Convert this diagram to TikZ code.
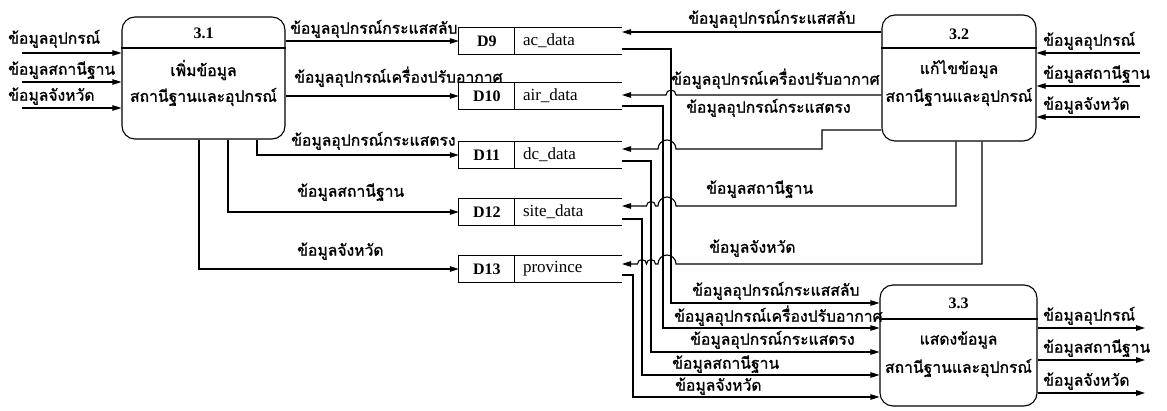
\documentclass[tikz,border=0pt]{standalone}
\usepackage{fontspec}
\setmainfont{Liberation Serif}
\newfontfamily\thai[Script=Thai, FakeBold=1.2]{Loma}
\usetikzlibrary{arrows.meta}

\tikzset{
  wire/.style={line width=1.1pt},
  flow/.style={line width=1.1pt, -{Triangle[length=9pt,width=5.5pt]}},
  procbox/.style={draw, line width=1.1pt, rounded corners=13pt, fill=white, inner sep=0pt},
  storebox/.style={minimum width=163pt, minimum height=27pt, inner sep=0pt},
  lbl/.style={font=\thai\fontsize{15.7}{17}\selectfont, inner sep=0pt},
  ptext/.style={font=\thai\fontsize{15.7}{17}\selectfont, inner sep=0pt},
  numtext/.style={font=\bfseries\fontsize{16}{18}\selectfont, inner sep=0pt},
  idtext/.style={font=\bfseries\fontsize{16}{18}\selectfont, inner sep=0pt},
  nametext/.style={font=\fontsize{17}{19}\selectfont, inner sep=0pt},
}

\newcommand{\dstore}[4]{%
  \node[storebox] (#1) at (540.5,#2) {};
  \draw[wire] (#1.north east) -- (#1.north west) -- (#1.south west) -- (#1.south east);
  \draw[wire] ([xshift=56pt]#1.north west) -- ([xshift=56pt]#1.south west);
  \node[idtext] (#1id) at ([xshift=28pt]#1.west) {#3};
  \node[nametext, anchor=west] (#1nm) at ([xshift=64pt]#1.west) {#4};
}

\begin{document}
\begin{tikzpicture}[x=1pt,y=-1pt]
\useasboundingbox[fill=white] (0,0) rectangle (1167,411);

% processes
\node[procbox, minimum width=163pt, minimum height=122pt] (p31) at (203.5,78) {};
\node[procbox, minimum width=154pt, minimum height=126pt] (p32) at (959,78) {};
\node[procbox, minimum width=157pt, minimum height=121pt] (p33) at (958.5,345.5) {};
\coordinate (h31) at (0,48);
\coordinate (h33) at (0,319);
\draw[wire] (p31.west |- h31) -- (p31.east |- h31);
\draw[wire] (p32.west |- h31) -- (p32.east |- h31);
\draw[wire] (p33.west |- h33) -- (p33.east |- h33);
\node[numtext] (p31n) at (203.5,33) {3.1};
\node[ptext] (p31a) at (203.5,70) {เพิ่มข้อมูล};
\node[ptext] (p31b) at (203.5,97) {สถานีฐานและอุปกรณ์};
\node[numtext] (p32n) at (959,34) {3.2};
\node[ptext] (p32a) at (959,69) {แก้ไขข้อมูล};
\node[ptext] (p32b) at (959,97) {สถานีฐานและอุปกรณ์};
\node[numtext] (p33n) at (958.5,303) {3.3};
\node[ptext] (p33a) at (958.5,340) {แสดงข้อมูล};
\node[ptext] (p33b) at (958.5,368) {สถานีฐานและอุปกรณ์};

% data stores
\dstore{d9}{41}{D9}{ac\_data}
\dstore{d10}{96}{D10}{air\_data}
\dstore{d11}{155}{D11}{dc\_data}
\dstore{d12}{212}{D12}{site\_data}
\dstore{d13}{269}{D13}{province}

\coordinate (d9in) at (622,32);   \coordinate (d9out) at (622,49);
\coordinate (d10in) at (622,95);  \coordinate (d10out) at (622,106);
\coordinate (d11in) at (622,149); \coordinate (d11out) at (622,161);
\coordinate (d12in) at (622,206); \coordinate (d12out) at (622,219);
\coordinate (d13in) at (622,264); \coordinate (d13out) at (622,275);

% external inputs to 3.1
\coordinate (in1) at (22,53);
\coordinate (in2) at (22,82);
\coordinate (in3) at (22,108);
\draw[flow] (in1) -- (p31.west |- in1);
\draw[flow] (in2) -- (p31.west |- in2);
\draw[flow] (in3) -- (p31.west |- in3);
\node[lbl, anchor=south west] (l1) at (8,48) {ข้อมูลอุปกรณ์};
\node[lbl, anchor=south west] (l2) at (8,79) {ข้อมูลสถานีฐาน};
\node[lbl, anchor=south west] (l3) at (8,105) {ข้อมูลจังหวัด};

% 3.1 -> stores
\draw[flow] (p31.east |- d9) -- (d9.west);
\node[lbl, anchor=south west] (f1) at (290,38) {ข้อมูลอุปกรณ์กระแสสลับ};
\draw[flow] (p31.east |- d10) -- (d10.west);
\node[lbl, anchor=south west] (f2) at (294,87) {ข้อมูลอุปกรณ์เครื่องปรับอากาศ};
\coordinate (c11) at (257,155);
\draw[flow] (p31.south -| c11) -- (c11) -- (d11.west);
\node[lbl, anchor=south west] (f3) at (291,150) {ข้อมูลอุปกรณ์กระแสตรง};
\coordinate (c12) at (228,212);
\draw[flow] (p31.south -| c12) -- (c12) -- (d12.west);
\node[lbl, anchor=south west] (f4) at (297,201) {ข้อมูลสถานีฐาน};
\coordinate (c13) at (199,269);
\draw[flow] (p31.south -| c13) -- (c13) -- (d13.west);
\node[lbl, anchor=south west] (f5) at (297,260) {ข้อมูลจังหวัด};

% 3.2 -> stores
\draw[flow] (p32.west |- d9in) -- (d9in);
\node[lbl, anchor=south west] (g1) at (688,28) {ข้อมูลอุปกรณ์กระแสสลับ};
\draw[flow] (p32.west |- d10in) -- (676,95) arc[start angle=0,end angle=180,radius=5pt] -- (d10in);
\node[lbl, anchor=south west] (g2) at (671,89) {ข้อมูลอุปกรณ์เครื่องปรับอากาศ};
\coordinate (s11) at (0,130);
\draw[flow] (p32.west |- s11) -- (822,130) -- (822,149) -- (676,149) arc[start angle=0,end angle=180,radius=9pt] -- (d11in);
\node[lbl, anchor=south west] (g3) at (686,117) {ข้อมูลอุปกรณ์กระแสตรง};
\coordinate (s12) at (956,206);
\draw[flow] (p32.south -| s12) -- (s12) -- (676,206) arc[start angle=0,end angle=180,radius=9pt] -- (655.5,206) arc[start angle=0,end angle=180,radius=4.5pt] -- (d12in);
\node[lbl, anchor=south west] (g4) at (706,198) {ข้อมูลสถานีฐาน};
\coordinate (s13) at (982,264);
\draw[flow] (p32.south -| s13) -- (s13) -- (676,264) arc[start angle=0,end angle=180,radius=9pt] -- (655.5,264) arc[start angle=0,end angle=180,radius=4.5pt] arc[start angle=0,end angle=180,radius=4.5pt] -- (d13in);
\node[lbl, anchor=south west] (g5) at (709,257) {ข้อมูลจังหวัด};

% external inputs to 3.2
\coordinate (r1) at (1140,53);
\coordinate (r2) at (1140,86);
\coordinate (r3) at (1140,117);
\draw[flow] (r1) -- (p32.east |- r1);
\draw[flow] (r2) -- (p32.east |- r2);
\draw[flow] (r3) -- (p32.east |- r3);
\node[lbl, anchor=south west] (m1) at (1043,50) {ข้อมูลอุปกรณ์};
\node[lbl, anchor=south west] (m2) at (1043,83) {ข้อมูลสถานีฐาน};
\node[lbl, anchor=south west] (m3) at (1043,114) {ข้อมูลจังหวัด};

% stores -> 3.3
\coordinate (v9) at (671,303);
\coordinate (v10) at (663,328);
\coordinate (v11) at (651,352);
\coordinate (v12) at (642,375);
\coordinate (v13) at (633,397);
\draw[flow] (d9out) -- (d9out -| v9) -- (v9) -- (p33.west |- v9);
\draw[flow] (d10out) -- (d10out -| v10) -- (v10) -- (p33.west |- v10);
\draw[flow] (d11out) -- (d11out -| v11) -- (v11) -- (p33.west |- v11);
\draw[flow] (d12out) -- (d12out -| v12) -- (v12) -- (p33.west |- v12);
\draw[flow] (d13out) -- (d13out -| v13) -- (v13) -- (p33.west |- v13);
\node[lbl, anchor=south west] (k1) at (692,300) {ข้อมูลอุปกรณ์กระแสสลับ};
\node[lbl, anchor=south west] (k2) at (674,326) {ข้อมูลอุปกรณ์เครื่องปรับอากาศ};
\node[lbl, anchor=south west] (k3) at (690,349) {ข้อมูลอุปกรณ์กระแสตรง};
\node[lbl, anchor=south west] (k4) at (672,373) {ข้อมูลสถานีฐาน};
\node[lbl, anchor=south west] (k5) at (675,395) {ข้อมูลจังหวัด};

% 3.3 outputs
\coordinate (o1) at (1145,328);
\coordinate (o2) at (1145,360);
\coordinate (o3) at (1145,393);
\draw[flow] (p33.east |- o1) -- (o1);
\draw[flow] (p33.east |- o2) -- (o2);
\draw[flow] (p33.east |- o3) -- (o3);
\node[lbl, anchor=south west] (n1) at (1043,325) {ข้อมูลอุปกรณ์};
\node[lbl, anchor=south west] (n2) at (1043,357) {ข้อมูลสถานีฐาน};
\node[lbl, anchor=south west] (n3) at (1043,390) {ข้อมูลจังหวัด};
\end{tikzpicture}
\end{document}
